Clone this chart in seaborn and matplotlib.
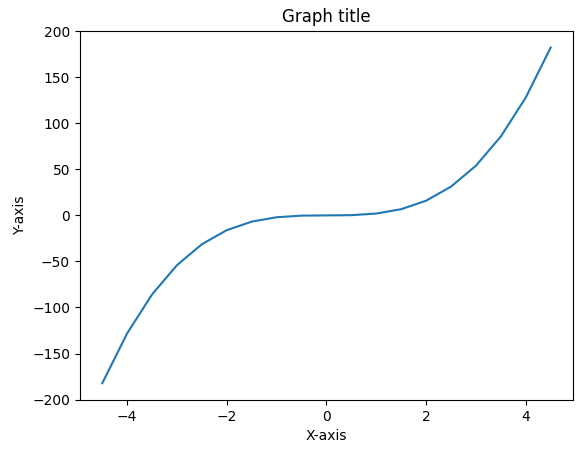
import matplotlib
matplotlib.use("Agg")
import matplotlib.pyplot as plt
import seaborn as sns
import pandas as pd

x_vals = [-4.5, -4.0, -3.5, -3.0, -2.5, -2.0, -1.5, -1.0, -0.5, 0.0,
          0.5, 1.0, 1.5, 2.0, 2.5, 3.0, 3.5, 4.0, 4.5]
y_vals = [-182.25, -128.0, -85.75, -54.0, -31.25, -16.0, -6.75, -2.0, -0.25, 0.0,
          0.25, 2.0, 6.75, 16.0, 31.25, 54.0, 85.75, 128.0, 182.25]

df = pd.DataFrame({'x': x_vals, 'y': y_vals})

fig, ax = plt.subplots(figsize=(5.83, 4.53), dpi=100)
fig.subplots_adjust(left=0.137, right=0.983, top=0.932, bottom=0.117)

sns.lineplot(data=df, x='x', y='y', ax=ax, color='#1f77b4')
ax.set_title("Graph title")
ax.set_xlabel("X-axis")
ax.set_ylabel("Y-axis")
ax.set_yticks([-200, -150, -100, -50, 0, 50, 100, 150, 200])

plt.savefig('out.png', dpi=100)
